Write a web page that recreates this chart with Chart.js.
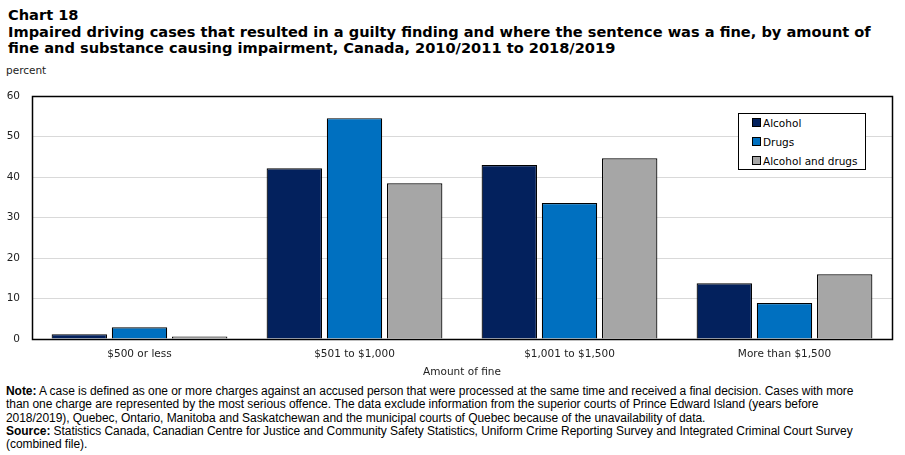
<!DOCTYPE html>
<html><head><meta charset="utf-8">
<script src="https://cdn.jsdelivr.net/npm/chart.js@4/dist/chart.umd.min.js"></script>
<style>
body{margin:0;background:#fff;width:905px;height:455px;overflow:hidden;position:relative;font-family:"DejaVu Sans",Verdana,sans-serif;}
#title{position:absolute;left:8px;top:7px;font-weight:bold;font-size:14.6px;line-height:16.5px;color:#000;white-space:nowrap;}
#unit{position:absolute;left:6px;top:64px;font-size:10.5px;color:#222;}
#wrap{position:absolute;left:0;top:78px;width:905px;height:301px;}
#legend{position:absolute;left:738px;top:113px;width:128px;height:57px;border:1px solid #000;background:#fff;font-size:10.5px;box-sizing:border-box;}
#legend div{position:absolute;left:13px;white-space:nowrap;}
#legend span{display:inline-block;width:7px;height:7px;border:1px solid #000;margin-right:2px;vertical-align:0px;}
#notes{position:absolute;left:6px;top:385px;font-family:"Liberation Sans",Arial,sans-serif;font-size:12px;line-height:13.3px;color:#000;white-space:nowrap;letter-spacing:-0.05px;}
</style></head><body>
<div id="title">Chart 18<br>Impaired driving cases that resulted in a guilty finding and where the sentence was a fine, by amount of<br>fine and substance causing impairment, Canada, 2010/2011 to 2018/2019</div>
<div id="unit">percent</div>
<div id="wrap"><canvas id="c"></canvas></div>
<div id="legend"></div>
<div id="notes"><b>Note:</b> A case is defined as one or more charges against an accused person that were processed at the same time and received a final decision. Cases with more<br>than one charge are represented by the most serious offence. The data exclude information from the superior courts of Prince Edward Island (years before<br>2018/2019), Quebec, Ontario, Manitoba and Saskatchewan and the municipal courts of Quebec because of the unavailability of data.<br><b>Source:</b> Statistics Canada, Canadian Centre for Justice and Community Safety Statistics, Uniform Crime Reporting Survey and Integrated Criminal Court Survey<br>(combined file).</div>
<script>
const categories = ["$500 or less", "$501 to $1,000", "$1,001 to $1,500", "More than $1,500"];
const alcohol = [1.2, 42.2, 43.0, 13.8];
const drugs = [2.9, 54.6, 33.6, 8.9];
const alcoholAndDrugs = [0.6, 38.5, 44.7, 16.0];
const seriesNames = ["Alcohol", "Drugs", "Alcohol and drugs"];
const colors = ["#03215D", "#0070C0", "#A6A6A6"];
const yTicks = [0, 10, 20, 30, 40, 50, 60];

const series = [alcohol, drugs, alcoholAndDrugs];
const leg = document.getElementById('legend');
seriesNames.forEach((n,i)=>{
  const d=document.createElement('div');
  d.style.top=(3+i*19)+'px';
  d.innerHTML='<span style="background:'+colors[i]+'"></span>'+n;
  leg.appendChild(d);
});

const boxPlugin = {
  id:'box',
  afterDraw(chart){
    const a=chart.chartArea, ctx=chart.ctx;
    ctx.save();ctx.strokeStyle='#000';ctx.lineWidth=1.5;
    ctx.strokeRect(Math.round(a.left)+0.5,Math.round(a.top)+0.5,Math.round(a.right-a.left),Math.round(a.bottom-a.top));
    ctx.restore();
  }
};

new Chart(document.getElementById('c'),{
  type:'bar',
  data:{labels:categories,datasets:series.map((s,i)=>({label:seriesNames[i],data:s,backgroundColor:colors[i],borderColor:'#000',borderWidth:1.2,categoryPercentage:0.84,barPercentage:0.92}))},
  options:{
    responsive:true,maintainAspectRatio:false,animation:false,
    layout:{padding:{left:0,right:13,top:8,bottom:0}},
    plugins:{legend:{display:false},tooltip:{enabled:false}},
    scales:{
      x:{grid:{display:false,drawTicks:false},border:{display:false},
         ticks:{color:'#222',font:{family:'DejaVu Sans',size:10.5},padding:9},
         title:{display:true,text:'Amount of fine',color:'#222',font:{family:'DejaVu Sans',size:10.5},padding:{top:3,bottom:0}},
         afterFit(s){s.height=40;}},
      y:{min:0,max:60,afterBuildTicks(s){s.ticks=yTicks.map(v=>({value:v}));},
         grid:{color:'#d9d9d9',lineWidth:1,drawTicks:false},border:{display:false},
         ticks:{color:'#222',font:{family:'DejaVu Sans',size:10.5},padding:12},
         afterFit(s){s.width=32;}}
    }
  },
  plugins:[boxPlugin]
});
</script>
</body></html>
